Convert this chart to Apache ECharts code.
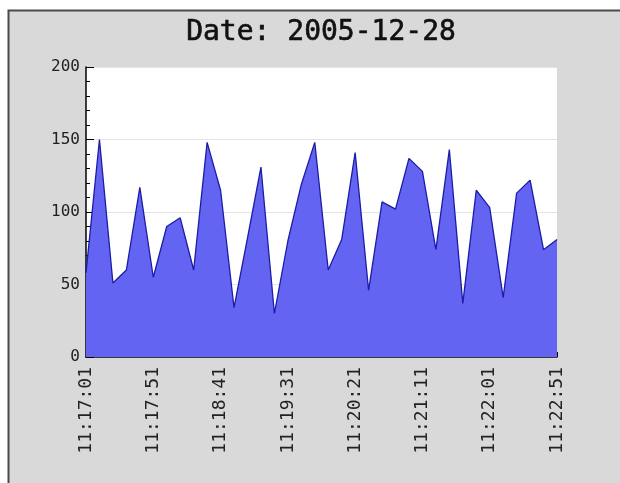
<!DOCTYPE html>
<html>
<head>
<meta charset="utf-8">
<script src="https://cdn.jsdelivr.net/npm/echarts@6/dist/echarts.min.js"></script>
<style>
  html, body { margin: 0; padding: 0; background: #ffffff; }
  #chart { width: 620px; height: 483px; }
</style>
</head>
<body>
<div id="chart"></div>
<script>
// Sample times, one reading every 10 seconds
var times = [
  '11:17:01','11:17:11','11:17:21','11:17:31','11:17:41',
  '11:17:51','11:18:01','11:18:11','11:18:21','11:18:31',
  '11:18:41','11:18:51','11:19:01','11:19:11','11:19:21',
  '11:19:31','11:19:41','11:19:51','11:20:01','11:20:11',
  '11:20:21','11:20:31','11:20:41','11:20:51','11:21:01',
  '11:21:11','11:21:21','11:21:31','11:21:41','11:21:51',
  '11:22:01','11:22:11','11:22:21','11:22:31','11:22:41',
  '11:22:51'
];

// Readings at each sample time
var readings = [
  58, 150, 51, 60, 117,
  55, 90, 96, 60, 148,
  115, 34, 82, 131, 30,
  80, 119, 148, 60, 81,
  141, 46, 107, 102, 137,
  128, 74, 143, 37, 115,
  103, 41, 113, 122, 74,
  81
];

var chartTitle = 'Date: 2005-12-28';

var chart = echarts.init(document.getElementById('chart'), null, { renderer: 'canvas' });

var labelFont = '"DejaVu Sans Mono", monospace';

var option = {
  animation: false,
  backgroundColor: '#ffffff',
  graphic: [
    {
      type: 'rect',
      z: -10,
      shape: { x: 8.5, y: 10.5, width: 640, height: 500 },
      style: { fill: '#d9d9d9', stroke: '#4a4a4a', lineWidth: 2 }
    },
    {
      type: 'text',
      z: 10,
      x: 321,
      y: 33,
      style: {
        text: chartTitle,
        textAlign: 'center',
        textVerticalAlign: 'middle',
        font: '28px "DejaVu Sans Mono"',
        fill: '#111111',
        stroke: '#111111',
        lineWidth: 0.6
      }
    }
  ],
  grid: {
    left: 86,
    top: 67,
    width: 471,
    height: 290,
    show: true,
    backgroundColor: '#ffffff',
    borderWidth: 0
  },
  xAxis: {
    type: 'category',
    data: times,
    boundaryGap: false,
    axisLine: { show: true, lineStyle: { color: '#000', width: 1.5 } },
    axisTick: { show: true, inside: true, length: 5, interval: 4, lineStyle: { color: '#000' } },
    axisLabel: {
      interval: 4,
      rotate: 90,
      margin: 10,
      fontFamily: labelFont,
      fontSize: 18,
      color: '#222'
    },
    splitLine: { show: false }
  },
  yAxis: {
    type: 'value',
    min: 0,
    max: 200,
    interval: 50,
    axisLine: { show: true, lineStyle: { color: '#000', width: 1.5 } },
    axisTick: { show: true, inside: true, length: 8, lineStyle: { color: '#000' } },
    minorTick: { show: true, splitNumber: 5, length: 4, lineStyle: { color: '#000' } },
    axisLabel: {
      margin: 6,
      fontFamily: labelFont,
      fontSize: 16,
      color: '#222'
    },
    splitLine: { show: true, lineStyle: { color: '#e4e4e4', width: 1 } }
  },
  series: [
    {
      type: 'line',
      data: readings,
      symbol: 'none',
      lineStyle: { color: '#1c1ca6', width: 1.3 },
      areaStyle: { color: '#6464f2', opacity: 1 },
      z: 2
    }
  ]
};

chart.setOption(option);
</script>
</body>
</html>
